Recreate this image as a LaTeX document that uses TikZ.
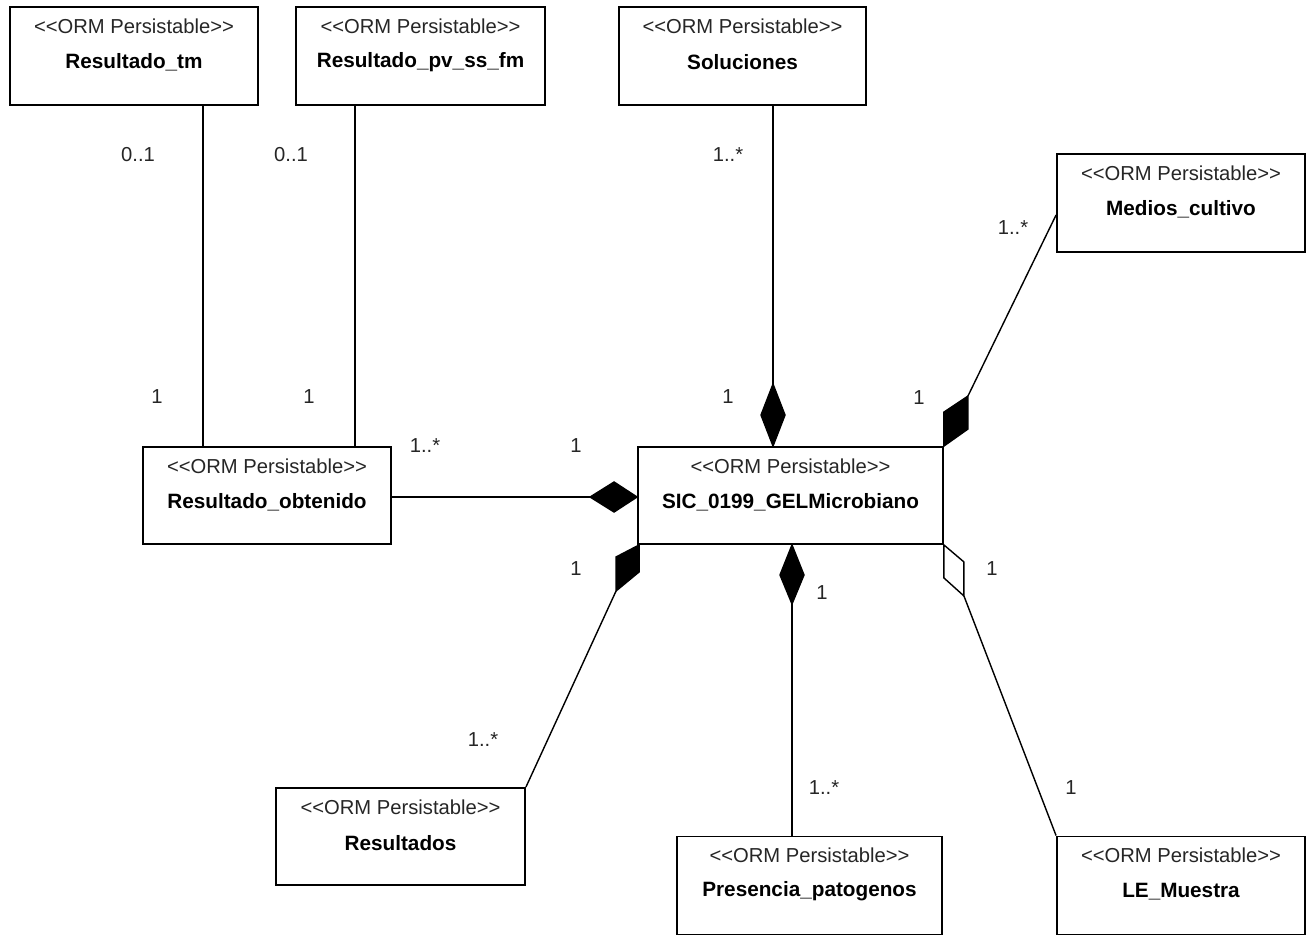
\documentclass[tikz,border=0pt]{standalone}
\usepackage{fontspec}
\setmainfont{Liberation Sans}
\usetikzlibrary{calc}
\begin{document}
\begin{tikzpicture}[x=0.02cm,y=-0.02cm,
  cls/.style={draw, line width=1.1pt, inner sep=0pt},
  stereo/.style={font=\fontsize{11.5}{13}\selectfont, inner sep=0pt, text=black!85},
  cname/.style={font=\fontsize{11.8}{14}\selectfont\bfseries, inner sep=0pt},
  mult/.style={font=\fontsize{11.5}{13}\selectfont, inner sep=0pt, text=black!85},
  assoc/.style={line width=0.8pt},
  comp/.style={draw, line width=0.8pt, fill=black, line join=miter},
  aggr/.style={draw, line width=0.8pt, fill=white, line join=miter},
]
\useasboundingbox[fill=white] (0,0) rectangle (1311,936);

% persistent class box: id, centre, width, height, class name
\newcommand\umlclass[5]{%
  \node[cls, minimum width=#3, minimum height=#4] (#1) at (#2) {};
  \node[stereo] (#1-st) at ([yshift=-0.40cm]#1.north)
    {<\kern0pt<ORM Persistable>\kern0pt>};
  \node[cname] (#1-nm) at ([yshift=-1.12cm]#1.north) {#5};
}

\umlclass{rtm}{134,56}{4.96cm}{1.96cm}{Resultado\_tm}
\umlclass{rpv}{420.5,56}{4.98cm}{1.96cm}{Resultado\_pv\_ss\_fm}
\umlclass{sol}{742.5,56}{4.94cm}{1.96cm}{Soluciones}
\umlclass{med}{1181,203}{4.96cm}{1.96cm}{Medios\_cultivo}
\umlclass{ro}{267,495.5}{4.96cm}{1.94cm}{Resultado\_obtenido}
\umlclass{sic}{790.5,495.5}{6.10cm}{1.94cm}{SIC\_0199\_GELMicrobiano}
\umlclass{res}{400.5,836.5}{4.98cm}{1.94cm}{Resultados}
\umlclass{pre}{809.5,885.5}{5.30cm}{1.96cm}{Presencia\_patogenos}
\umlclass{le}{1181,885.5}{4.96cm}{1.96cm}{LE\_Muestra}

% Resultado_obtenido -- result tables
\coordinate (ro-a) at ([xshift=-1.28cm]ro.north);
\coordinate (ro-b) at ([xshift=1.76cm]ro.north);
\draw[assoc] (ro-a) -- (ro-a |- rtm.south);
\draw[assoc] (ro-b) -- (ro-b |- rpv.south);

% Soluciones composition
\coordinate (d-sol) at ([xshift=-0.35cm]sic.north);
\path[comp] (d-sol) -- ++(-12,-31) -- ++(12,-31) -- ++(12,31) -- cycle;
\coordinate (d-sol-end) at ([shift={(0,-62)}]d-sol);
\draw[assoc] (d-sol-end) -- (d-sol-end |- sol.south);

% Medios_cultivo composition
\path[comp] (sic.north east) -- ++(0,-34) -- ++(24,-16) -- ++(0,33) -- cycle;
\coordinate (d-med-end) at ([shift={(24,-50)}]sic.north east);
\draw[assoc] (d-med-end) -- ([yshift=-0.24cm]med.west);

% Resultado_obtenido composition
\coordinate (d-ro) at ([yshift=-0.03cm]sic.west);
\path[comp] (d-ro) -- ++(-23,-15) -- ++(-24,15) -- ++(24,15) -- cycle;
\coordinate (d-ro-end) at ([shift={(-47,0)}]d-ro);
\draw[assoc] (d-ro-end) -- (d-ro -| ro.east);

% Resultados composition
\coordinate (d-res) at ([xshift=0.04cm]sic.south west);
\path[comp] (d-res) -- ++(0,27) -- ++(-23,19) -- ++(0,-34) -- cycle;
\coordinate (d-res-end) at ([shift={(-23,46)}]d-res);
\draw[assoc] (d-res-end) -- (res.north east);

% Presencia_patogenos composition
\coordinate (d-pre) at ([xshift=0.03cm]sic.south);
\path[comp] (d-pre) -- ++(-12,30) -- ++(12,29) -- ++(12,-29) -- cycle;
\coordinate (d-pre-end) at ([shift={(0,59)}]d-pre);
\draw[assoc] (d-pre-end) -- (d-pre |- pre.north);

% LE_Muestra aggregation
\path[aggr] (sic.south east) -- ++(20,17) -- ++(0,34) -- ++(-20,-18) -- cycle;
\coordinate (d-le-end) at ([shift={(20,51)}]sic.south east);
\draw[assoc] (d-le-end) -- (le.north west);

% multiplicities
\node[mult] (m-rtm) at (138,155) {0..1};
\node[mult] (m-rpv) at (291,155) {0..1};
\node[mult] (m-ro1) at (157,397) {1};
\node[mult] (m-ro2) at (309,397) {1};
\node[mult] (m-sol) at (728,155) {1..*};
\node[mult] (m-sic1) at (728,397) {1};
\node[mult] (m-med) at (1013,228) {1..*};
\node[mult] (m-sic2) at (919,398) {1};
\node[mult] (m-ro3) at (425,446) {1..*};
\node[mult] (m-sic3) at (576,446) {1};
\node[mult] (m-sic4) at (576,569) {1};
\node[mult] (m-res) at (483,740) {1..*};
\node[mult] (m-sic5) at (822,593) {1};
\node[mult] (m-pre) at (824,788) {1..*};
\node[mult] (m-sic6) at (992,569) {1};
\node[mult] (m-le) at (1071,788) {1};
\end{tikzpicture}
\end{document}
